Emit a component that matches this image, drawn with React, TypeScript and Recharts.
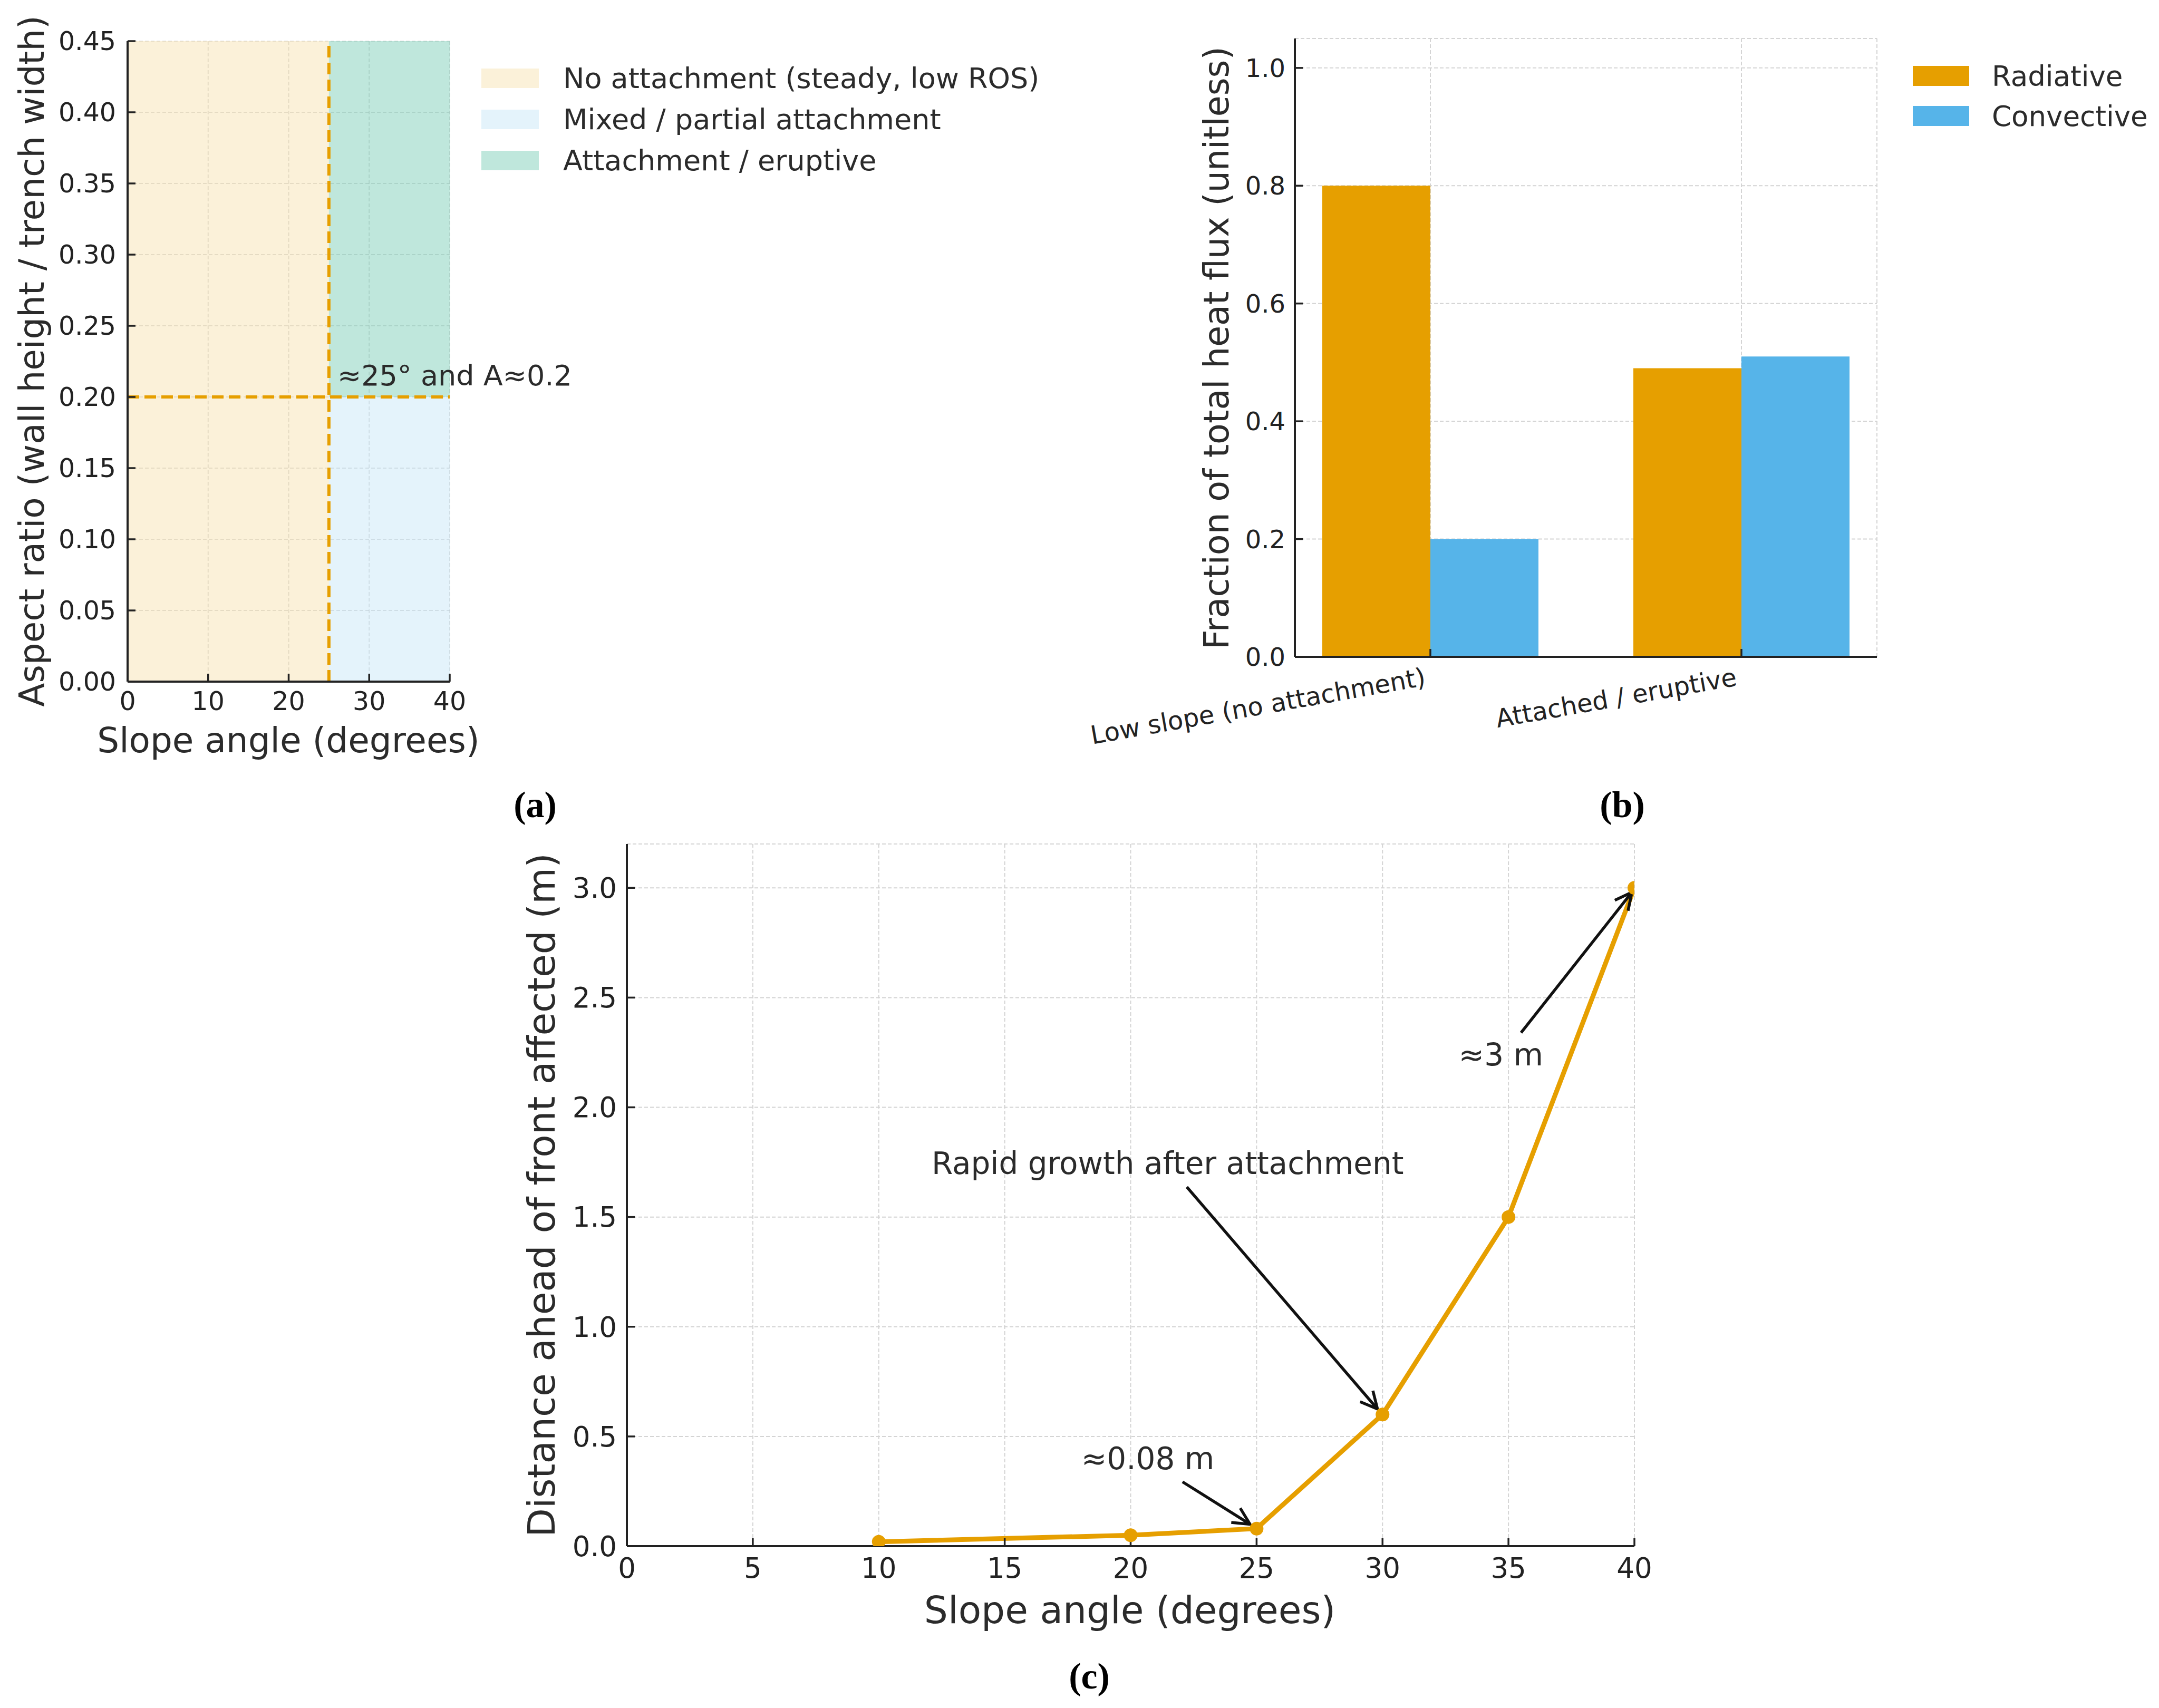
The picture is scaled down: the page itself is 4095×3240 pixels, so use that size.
import React from "react"
import {
  ComposedChart, BarChart, LineChart, Bar, Line, XAxis, YAxis, CartesianGrid,
  ReferenceArea, ReferenceLine, ReferenceDot, Customized,
} from "recharts"

const ORANGE = "#E69F00"
const SKY = "#56B4E9"
const GREEN = "#009E73"
const INK = "#222222"
const TEXT = "#2b2b2b"
const FONT = "DejaVu Sans"

// (a) regime map
const regimeNames = ["No attachment (steady, low ROS)", "Mixed / partial attachment", "Attachment / eruptive"]
const regimeX0 = [0, 25, 25]
const regimeX1 = [25, 40, 40]
const regimeY0 = [0, 0, 0.2]
const regimeY1 = [0.45, 0.2, 0.45]
const regimeColors = [ORANGE, SKY, GREEN]
const regimeAlpha = [0.15, 0.16, 0.25]
const slopeThreshold = 25
const aspectThreshold = 0.2
const slopeTicksA = [0, 10, 20, 30, 40]
const aspectTicks = [0, 0.05, 0.1, 0.15, 0.2, 0.25, 0.3, 0.35, 0.4, 0.45]
const thresholdNote = "≈25° and A≈0.2"
const thresholdNoteAt = [26.05, 0.208]

// (b) heat flux split
const regimes = ["Low slope (no attachment)", "Attached / eruptive"]
const radiative = [0.8, 0.49]
const convective = [0.2, 0.51]
const fluxTicks = [0, 0.2, 0.4, 0.6, 0.8, 1.0]
const fluxNames = ["Radiative", "Convective"]
const fluxColors = [ORANGE, SKY]
const fluxData = regimes.map((r, i) => ({ regime: r, radiative: radiative[i], convective: convective[i] }))

// (c) distance ahead of front
const angles = [10, 20, 25, 30, 35, 40]
const distances = [0.02, 0.05, 0.08, 0.6, 1.5, 3.0]
const angleTicks = [0, 5, 10, 15, 20, 25, 30, 35, 40]
const distTicks = [0, 0.5, 1.0, 1.5, 2.0, 2.5, 3.0]
const noteTexts = ["Rapid growth after attachment", "≈0.08 m", "≈3 m"]
const noteTextAt = [[21.47, 1.745], [20.68, 0.4], [34.7, 2.24]]
const noteTail = [[22.23, 1.637], [22.06, 0.293], [35.5, 2.34]]
const noteHead = [[29.8, 0.625], [24.74, 0.1], [39.9, 2.98]]
const distData = angles.map((a, i) => ({ angle: a, dist: distances[i] }))

const axisStyle = { stroke: INK, strokeWidth: 4 }
const tickStyle = { stroke: INK, strokeWidth: 3.5 }
const gridProps = { stroke: "#d4d4d4", strokeDasharray: "7 4", strokeWidth: 2 }

function PanelTag({ x, y, text }: { x: number; y: number; text: string }) {
  return (
    <text x={x} y={y} textAnchor="middle" fontFamily="Liberation Serif" fontWeight="bold" fontSize={70} fill="#000">
      {text}
    </text>
  )
}

function TitlesA() {
  return (
    <g fontFamily={FONT} fill={TEXT}>
      <text x={547} y={1427} textAnchor="middle" fontSize={66}>Slope angle (degrees)</text>
      <text x={83} y={685} textAnchor="middle" fontSize={66} transform="rotate(-90 83 685)">
        Aspect ratio (wall height / trench width)
      </text>
      {regimeNames.map((n, i) => (
        <g key={n}>
          <rect x={913} y={130 + i * 78} width={109} height={37} fill={regimeColors[i]} fillOpacity={regimeAlpha[i]} />
          <text x={1068} y={167 + i * 78} fontSize={54}>{n}</text>
        </g>
      ))}
      <PanelTag x={1015} y={1550} text="(a)" />
    </g>
  )
}

function TitlesB() {
  return (
    <g fontFamily={FONT} fill={TEXT}>
      <text x={380} y={660} textAnchor="middle" fontSize={65} transform="rotate(-90 380 660)">
        Fraction of total heat flux (unitless)
      </text>
      {fluxNames.map((n, i) => (
        <g key={n}>
          <rect x={1678} y={125 + i * 76} width={107} height={38} fill={fluxColors[i]} />
          <text x={1828} y={163 + i * 76} fontSize={53}>{n}</text>
        </g>
      ))}
      <PanelTag x={1127} y={1550} text="(b)" />
    </g>
  )
}

function TitlesC() {
  return (
    <g fontFamily={FONT} fill={TEXT}>
      <text x={1243} y={1529} textAnchor="middle" fontSize={71}>Slope angle (degrees)</text>
      <text x={152} y={717} textAnchor="middle" fontSize={71} transform="rotate(-90 152 717)">
        Distance ahead of front affected (m)
      </text>
      <PanelTag x={1166} y={1653} text="(c)" />
    </g>
  )
}

function SlantTick(props: any) {
  const { x, y, payload } = props
  const tx = x - 7
  const ty = y + 69
  return (
    <text x={tx} y={ty} textAnchor="end" transform={`rotate(-10 ${tx} ${ty})`} fontSize={48} fill={INK} fontFamily={FONT}>
      {payload.value}
    </text>
  )
}

function Arrow(props: any) {
  const { x1, y1, x2, y2 } = props
  const ang = Math.atan2(y2 - y1, x2 - x1)
  const L = 32
  const W = 16
  const bx = x2 - L * Math.cos(ang)
  const by = y2 - L * Math.sin(ang)
  const px = -Math.sin(ang) * W
  const py = Math.cos(ang) * W
  return (
    <g>
      <line x1={x1} y1={y1} x2={x2} y2={y2} stroke="#111" strokeWidth={5.5} />
      <polyline points={`${bx + px},${by + py} ${x2},${y2} ${bx - px},${by - py}`} fill="none" stroke="#111" strokeWidth={5.5} />
    </g>
  )
}

export default function App() {
  return (
    <div style={{ position: "absolute", left: 0, top: 0, width: 4095, height: 3240, background: "#fff", overflow: "hidden", fontFamily: FONT }}>
      {/* (a) */}
      <div style={{ position: "absolute", left: 0, top: 0 }}>
        <ComposedChart width={2050} height={1600} margin={{ top: 78, right: 1197, bottom: 247, left: 182 }}>
          <XAxis type="number" dataKey="x" domain={[0, 40]} ticks={slopeTicksA} interval={0} height={60}
            tickSize={-15} tickMargin={34} axisLine={axisStyle} tickLine={tickStyle}
            tick={{ fontSize: 49, fill: INK }} allowDataOverflow />
          <YAxis type="number" domain={[0, 0.45]} ticks={aspectTicks} interval={0} width={60}
            tickSize={-15} tickMargin={37} axisLine={axisStyle} tickLine={tickStyle}
            tick={{ fontSize: 49, fill: INK }} tickFormatter={(v: number) => v.toFixed(2)} allowDataOverflow />
          {regimeNames.map((n, i) => (
            <ReferenceArea key={n} x1={regimeX0[i]} x2={regimeX1[i]} y1={regimeY0[i]} y2={regimeY1[i]}
              fill={regimeColors[i]} fillOpacity={regimeAlpha[i]} stroke="none" />
          ))}
          <CartesianGrid {...gridProps} strokeOpacity={0.6} />
          <ReferenceLine x={slopeThreshold} stroke={ORANGE} strokeWidth={6} strokeDasharray="22 10" />
          <ReferenceLine y={aspectThreshold} stroke={ORANGE} strokeWidth={6} strokeDasharray="22 10" />
          <ReferenceDot x={thresholdNoteAt[0]} y={thresholdNoteAt[1]}
            shape={(p: any) => (
              <text x={p.cx} y={p.cy} fontSize={54} fill={TEXT} fontFamily={FONT}>{thresholdNote}</text>
            )} />
          <Customized component={TitlesA} />
        </ComposedChart>
      </div>

      {/* (b) */}
      <div style={{ position: "absolute", left: 1950, top: 0 }}>
        <BarChart width={2145} height={1600} data={fluxData} barGap={0}
          margin={{ top: 73, right: 535, bottom: 294, left: 446 }}>
          <CartesianGrid {...gridProps} />
          <XAxis dataKey="regime" padding={{ left: -38, right: -38 }} height={60} interval={0}
            tickSize={-15} tickMargin={0} axisLine={axisStyle} tickLine={tickStyle} tick={<SlantTick />} />
          <YAxis type="number" domain={[0, 1.05]} ticks={fluxTicks} interval={0} width={60}
            tickSize={-15} tickMargin={33} axisLine={axisStyle} tickLine={tickStyle}
            tick={{ fontSize: 48, fill: INK }} tickFormatter={(v: number) => v.toFixed(1)} allowDataOverflow />
          <Bar dataKey="radiative" name={fluxNames[0]} fill={fluxColors[0]} barSize={205} isAnimationActive={false} />
          <Bar dataKey="convective" name={fluxNames[1]} fill={fluxColors[1]} barSize={205} isAnimationActive={false} />
          <Customized component={TitlesB} />
        </BarChart>
      </div>

      {/* (c) */}
      <div style={{ position: "absolute", left: 900, top: 1550 }}>
        <LineChart width={2400} height={1690} data={distData}
          margin={{ top: 51, right: 200, bottom: 247, left: 229 }}>
          <CartesianGrid {...gridProps} />
          <XAxis type="number" dataKey="angle" domain={[0, 40]} ticks={angleTicks} interval={0} height={60}
            tickSize={-15} tickMargin={37} axisLine={axisStyle} tickLine={tickStyle}
            tick={{ fontSize: 53, fill: INK }} allowDataOverflow />
          <YAxis type="number" domain={[0, 3.2]} ticks={distTicks} interval={0} width={60}
            tickSize={-15} tickMargin={34} axisLine={axisStyle} tickLine={tickStyle}
            tick={{ fontSize: 53, fill: INK }} tickFormatter={(v: number) => v.toFixed(1)} allowDataOverflow />
          <Line type="linear" dataKey="dist" stroke={ORANGE} strokeWidth={9}
            dot={{ r: 13, fill: ORANGE, stroke: ORANGE, strokeWidth: 0 }} activeDot={false} isAnimationActive={false} />
          {noteTexts.map((t, i) => (
            <ReferenceLine key={"a" + i} segment={[{ x: noteTail[i][0], y: noteTail[i][1] }, { x: noteHead[i][0], y: noteHead[i][1] }]}
              shape={(p: any) => <Arrow {...p} />} />
          ))}
          {noteTexts.map((t, i) => (
            <ReferenceDot key={"t" + i} x={noteTextAt[i][0]} y={noteTextAt[i][1]}
              shape={(p: any) => (
                <text x={p.cx} y={p.cy} textAnchor="middle" dominantBaseline="central" fontSize={58} fill={TEXT} fontFamily={FONT}>{t}</text>
              )} />
          ))}
          <Customized component={TitlesC} />
        </LineChart>
      </div>
    </div>
  )
}
